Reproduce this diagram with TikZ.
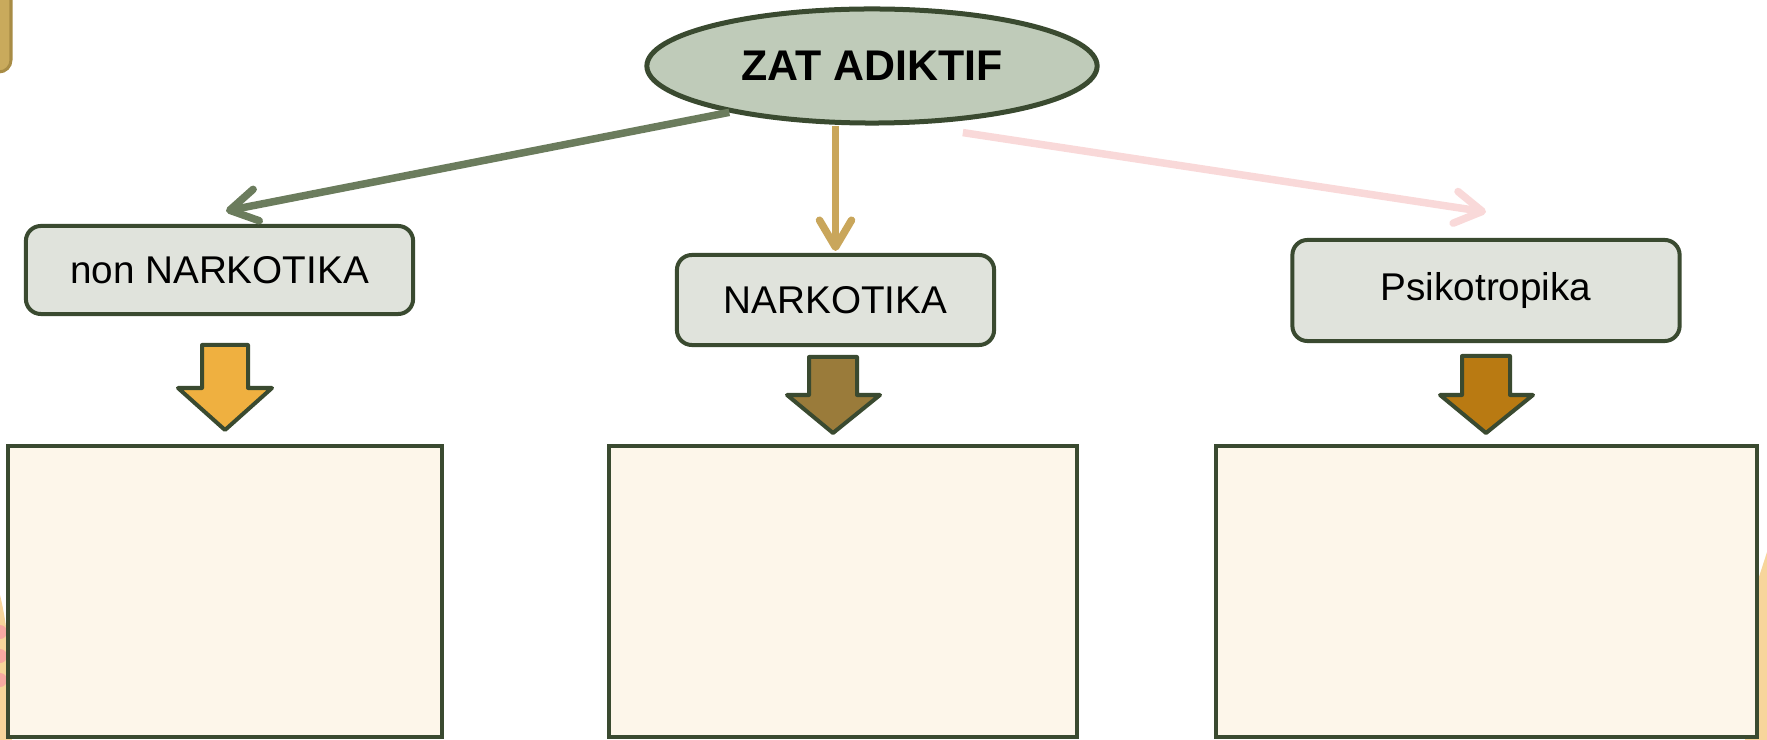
\documentclass[tikz,border=0pt]{standalone}
\usepackage{fontspec}
\setmainfont{Liberation Sans}
\usetikzlibrary{shapes.geometric,arrows.meta}

\definecolor{edgegreen}{HTML}{3A4A30}
\definecolor{ovalfill}{HTML}{BFCBB9}
\definecolor{boxgrey}{HTML}{E0E3DC}
\definecolor{paper}{HTML}{FDF6EA}
\definecolor{linkgreen}{HTML}{6B7C5D}
\definecolor{linkgold}{HTML}{C9A65B}
\definecolor{linkpink}{HTML}{F9D9D9}
\definecolor{arrowA}{HTML}{EFB040}
\definecolor{arrowB}{HTML}{9A7B3A}
\definecolor{arrowC}{HTML}{B97A12}
\definecolor{tabgold}{HTML}{C9AA5C}
\definecolor{tabedge}{HTML}{A88C45}
\definecolor{sand}{HTML}{F7D59B}
\definecolor{pinkdot}{HTML}{F8A9A2}

\tikzset{
	kindbox/.style={draw=edgegreen, fill=boxgrey, line width=0.04cm, rounded corners=0.15cm, font=\fontsize{11pt}{13pt}\selectfont},
	emptybox/.style={draw=edgegreen, fill=paper, line width=0.04cm},
	link/.style={line width=0.075cm, -{Straight Barb[length=0.27cm, width=0.32cm, round]}},
	bigarrow/.style={draw=edgegreen, line width=0.04cm, line join=round},
}

\begin{document}
\begin{tikzpicture}[x=0.01cm, y=-0.01cm]
		\useasboundingbox (0,0) rectangle (1767,740);
		\clip (0,0) rectangle (1767,740);
		
		% pieces of the slide behind
		\draw[fill=tabgold, draw=tabedge, line width=0.03cm, rounded corners=0.12cm] (-40,-20) rectangle (11,72);
		\fill[sand] (-20,720) ellipse [x radius=0.32cm, y radius=1.6cm];
		\fill[pinkdot] (0,632) circle [radius=0.07cm];
		\fill[pinkdot] (0,656) circle [radius=0.07cm];
		\fill[pinkdot] (0,680) circle [radius=0.07cm];
		\fill[sand] (1745,620) -- (1767,552) -- (1767,740) -- (1745,740) -- cycle;
		
		\node[ellipse, draw=edgegreen, fill=ovalfill, line width=0.05cm, minimum width=4.5cm, minimum height=1.14cm, inner sep=0pt, font=\fontsize{12.2pt}{14pt}\selectfont\bfseries] (zat) at (872, 66) {ZAT ADIKTIF};
		
		\node[kindbox, minimum width=3.87cm, minimum height=0.88cm] (nonnar) at (219.5, 270) {non NARKOTIKA};
		\node[kindbox, minimum width=3.17cm, minimum height=0.9cm] (nar) at (835.5, 300) {NARKOTIKA};
		\node[kindbox, minimum width=3.87cm, minimum height=1.01cm] (psi) at (1486, 290.5) {Psikotropika};
		
		\draw[link, linkgreen] (zat.198) -- ([shift={(0.065cm,0.13cm)}]nonnar.north);
		\draw[link, linkgold] (nar.north |- zat.south) -- ([yshift=0.02cm]nar.north);
		\draw[link, linkpink] ([yshift=-0.12cm]zat.-31) -- ([yshift=0.26cm]psi.north);
		
		\draw[bigarrow, fill=arrowA] (202,345) -- (248,345) -- (248,388) -- (272,388) -- (225,430) -- (178,388) -- (202,388) -- cycle;
		\draw[bigarrow, fill=arrowB] (809,357) -- (857,357) -- (857,395) -- (880,395) -- (833,433) -- (787,395) -- (809,395) -- cycle;
		\draw[bigarrow, fill=arrowC] (1462,356) -- (1510,356) -- (1510,395) -- (1533,395) -- (1486,433) -- (1440,395) -- (1462,395) -- cycle;
		
		\node[emptybox, minimum width=4.34cm, minimum height=2.91cm] (nonnarlist) at (225, 591.5) {};
		\node[emptybox, minimum width=4.68cm, minimum height=2.91cm] (narlist) at (843, 591.5) {};
		\node[emptybox, minimum width=5.41cm, minimum height=2.91cm] (psilist) at (1486.5, 591.5) {};
	\end{tikzpicture}
\end{document}
